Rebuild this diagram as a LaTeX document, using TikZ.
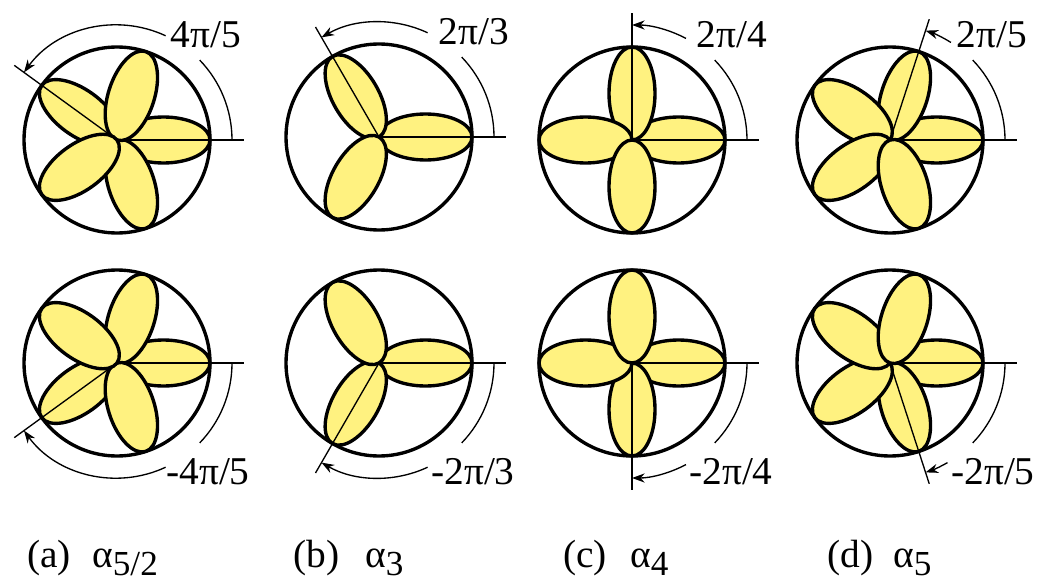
\documentclass[tikz,border=0pt]{standalone}
\usepackage{fontspec}
\setmainfont{Liberation Serif}
\usetikzlibrary{arrows.meta,calc}
\definecolor{petalyellow}{RGB}{255,242,128}
\def\rr{93}
\def\pa{46.5}
\def\pb{23}
% #1 name, #2 centre, #3 petal angles, #4 marked angle, #5 side (1/-1),
% #6 where the arrow arc restarts, #7 label x shift, #8 label
\newcommand{\rosette}[8]{%
  \coordinate (#1) at (#2);
  \foreach \ang in {#3}{
    \begin{scope}[shift={(#1)}, rotate=\ang]
      \draw[petal] (\pa,0) ellipse [x radius=\pa, y radius=\pb];
    \end{scope}}
  \draw[ring] (#1) circle [radius=\rr];
  \draw[guide] (#1) -- ++(0:127);
  \draw[guide] (#1) -- ++(#4:127);
  \draw[guide] (#1) ++(0:115) arc [start angle=0, end angle={44*#5}, radius=115];
  \draw[guide, -{Stealth[length=9pt,width=6.5pt]}] (#1) ++({#6*#5}:115)
        arc [start angle={#6*#5}, end angle=#4, radius=115];
  \node[lab, anchor=base] (#1-lab) at ($(#1)+(#7,{106.5*#5-14.5})$) {#8};}

\begin{document}
\begin{tikzpicture}[x=0.025cm, y=0.025cm,
    petal/.style={draw, line width=2.4pt, fill=petalyellow},
    ring/.style={draw, line width=2.4pt},
    guide/.style={line width=0.95pt},
    lab/.style={font=\fontsize{28}{32}\selectfont, inner sep=0pt},
    captext/.style={font=\fontsize{28}{32}\selectfont, inner sep=0pt, anchor=base west}]
  \useasboundingbox (0,0) rectangle (1037,581);

  % ---------- upper row ----------
  \rosette{a1}{117,441}{0,144,288,72,216}{144}{1}{65}{89}{4π/5}
  \rosette{b1}{379,444}{0,120,240}{120}{1}{65}{95}{2π/3}
  \rosette{c1}{632,441}{0,90,180,270}{90}{1}{62}{100}{2π/4}
  \rosette{d1}{890,441}{0,72,144,216,288}{72}{1}{58}{102}{2π/5}

  % ---------- lower row (mirrored) ----------
  \rosette{a2}{117,218}{0,-144,-288,-72,-216}{-144}{-1}{65}{91}{-4π/5}
  \rosette{b2}{379,218}{0,-120,-240}{-120}{-1}{65}{94}{-2π/3}
  \rosette{c2}{632,218}{0,-90,-180,-270}{-90}{-1}{62}{99}{-2π/4}
  \rosette{d2}{890,218}{0,-72,-144,-216,-288}{-72}{-1}{60}{103}{-2π/5}

  % ---------- captions ----------
  \node[captext] (tag a) at (27,14)  {(a)};
  \node[captext] (alp a) at (92,14)  {α\raisebox{-6pt}{\fontsize{25}{28}\selectfont 5/2}};
  \node[captext] (tag b) at (293,14) {(b)};
  \node[captext] (alp b) at (365,14) {α\raisebox{-6pt}{\fontsize{25}{28}\selectfont 3}};
  \node[captext] (tag c) at (563,14) {(c)};
  \node[captext] (alp c) at (630,14) {α\raisebox{-6pt}{\fontsize{25}{28}\selectfont 4}};
  \node[captext] (tag d) at (827,14) {(d)};
  \node[captext] (alp d) at (893,14) {α\raisebox{-6pt}{\fontsize{25}{28}\selectfont 5}};
\end{tikzpicture}
\end{document}
